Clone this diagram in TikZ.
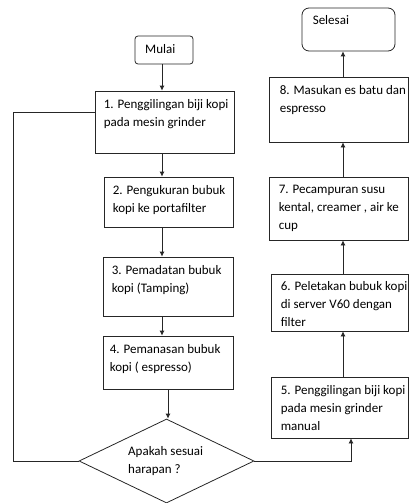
\documentclass[tikz,border=0pt]{standalone}
\usepackage{fontspec}
\setmainfont{Carlito}
\usetikzlibrary{arrows.meta,shapes.geometric}

\begin{document}
\begin{tikzpicture}[x=1pt,y=-1pt,
  box/.style={draw=black!85,line width=0.8pt,inner sep=0pt},
  endbox/.style={box,rounded corners=3pt},
  txt/.style={anchor=north west,inner sep=0pt,align=left,font=\fontsize{13}{18}\selectfont},
  arr/.style={draw=black!85,line width=0.8pt,-{Latex[length=5pt,width=5pt]}},
  ln/.style={draw=black!85,line width=0.8pt}]

\useasboundingbox (0,0) rectangle (410,503);

% left column
\node[endbox,minimum width=58pt,minimum height=28pt] (mulai) at (164,50) {};
\node[box,minimum width=139pt,minimum height=62pt] (s1) at (164.5,122) {};
\node[box,minimum width=129pt,minimum height=50pt] (s2) at (168.5,202) {};
\node[box,minimum width=130pt,minimum height=59pt] (s3) at (168,286.5) {};
\node[box,minimum width=130pt,minimum height=53pt] (s4) at (168,362.5) {};
\node[box,diamond,minimum width=175pt,minimum height=84pt] (dec) at (166.5,461) {};

% right column
\node[box,minimum width=137pt,minimum height=61pt] (s5) at (339.5,407.5) {};
\node[box,minimum width=137pt,minimum height=57pt] (s6) at (339.5,302.5) {};
\node[box,minimum width=139pt,minimum height=63pt] (s7) at (338.5,208.5) {};
\node[box,minimum width=139pt,minimum height=65pt] (s8) at (338.5,109.5) {};
\node[endbox,rounded corners=7pt,minimum width=93pt,minimum height=43pt] (selesai) at (348.5,29.5) {};

% texts
\node[txt,anchor=west] (tmulai) at (145,49) {Mulai};
\node[txt] (t1) at ([shift={(9,9)}]s1.north west) {1. Penggilingan biji kopi\\pada mesin grinder};
\node[txt] (t2) at ([shift={(9,9)}]s2.north west) {2. Pengukuran bubuk\\kopi ke portafilter};
\node[txt] (t3) at ([shift={(9,9)}]s3.north west) {3. Pemadatan bubuk\\kopi (Tamping)};
\node[txt] (t4) at ([shift={(7,9)}]s4.north west) {4. Pemanasan bubuk\\kopi ( espresso)};
\node[txt] (tdec) at (128,446) {Apakah sesuai\\harapan ?};
\node[txt] (t5) at ([shift={(10,9)}]s5.north west) {5. Penggilingan biji kopi\\pada mesin grinder\\manual};
\node[txt] (t6) at ([shift={(10,8)}]s6.north west) {6. Peletakan bubuk kopi\\di server V60 dengan\\filter};
\node[txt] (t7) at ([shift={(10,8)}]s7.north west) {7. Pecampuran susu\\kental, creamer , air ke\\cup};
\node[txt] (t8) at ([shift={(11,9)}]s8.north west) {8. Masukan es batu dan\\espresso};
\node[txt] (tselesai) at ([shift={(11,8)}]selesai.north west) {Selesai};

% arrows down
\draw[arr] ([xshift=-2pt]mulai.south) -- ([xshift=-2pt]mulai.south |- s1.north);
\draw[arr] ([xshift=-2.5pt]s1.south) -- ([xshift=-2.5pt]s1.south |- s2.north);
\draw[arr] ([xshift=-6.5pt]s2.south) -- ([xshift=-6.5pt]s2.south |- s3.north);
\draw[arr] ([xshift=-6pt]s3.south) -- ([xshift=-6pt]s3.south |- s4.north);
\draw[arr] (s4.south) -- (s4.south |- dec.north);

% loop back and branch
\coordinate (loopl) at (13,0);
\coordinate (back) at ([yshift=-22pt]s1.north west);
\draw[ln] (dec.west) -- (dec.west -| loopl) |- (back);
\draw[arr] (dec.east) -| ([xshift=11.5pt]s5.south);

% arrows up
\draw[arr] ([xshift=3.5pt]s5.north) -- ([xshift=3.5pt]s5.north |- s6.south);
\draw[arr] ([xshift=3.5pt]s6.north) -- ([xshift=3.5pt]s6.north |- s7.south);
\draw[arr] ([xshift=4.5pt]s7.north) -- ([xshift=4.5pt]s7.north |- s8.south);
\draw[arr] ([xshift=4.5pt]s8.north) -- ([xshift=4.5pt]s8.north |- selesai.south);

\end{tikzpicture}
\end{document}
